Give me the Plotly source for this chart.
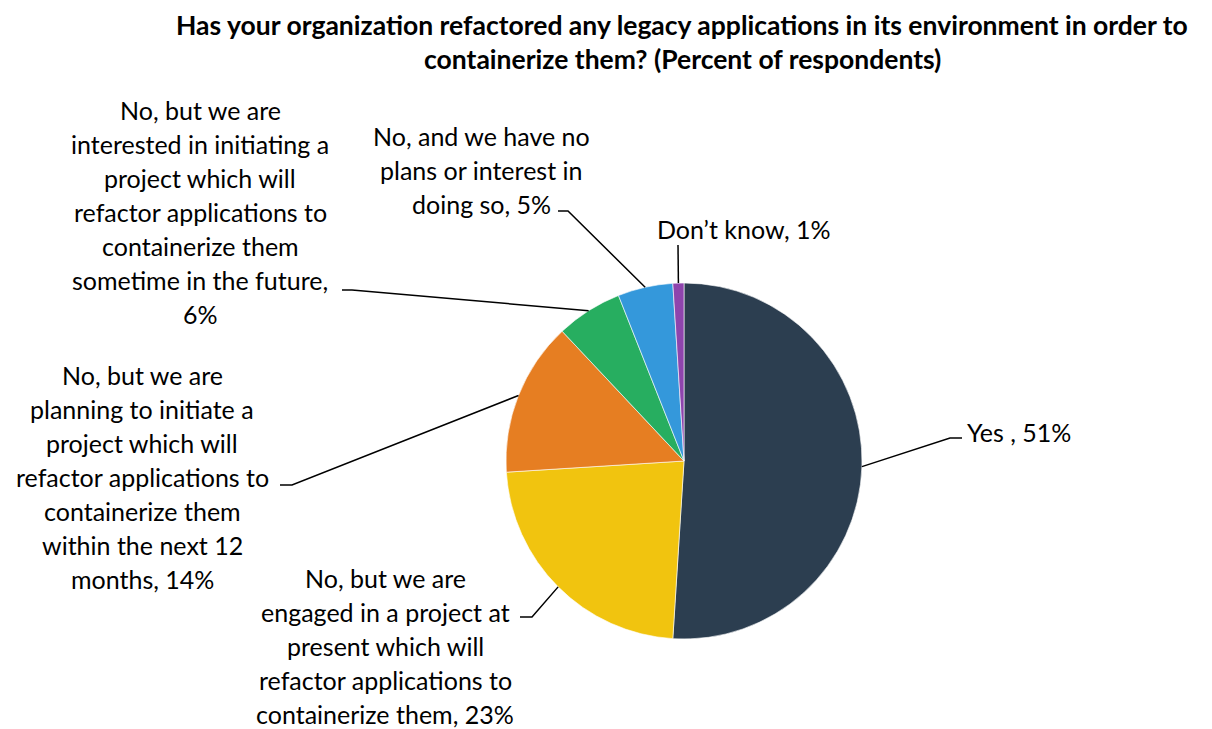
import numpy as np
import plotly.graph_objects as go

# ---- data -------------------------------------------------------------
title_lines = [
    "Has your organization refactored any legacy applications in its environment in order to",
    "containerize them? (Percent of respondents)",
]
categories = [
    "Yes",
    "No, but we are engaged in a project at present which will refactor applications to containerize them",
    "No, but we are planning to initiate a project which will refactor applications to containerize them within the next 12 months",
    "No, but we are interested in initiating a project which will refactor applications to containerize them sometime in the future",
    "No, and we have no plans or interest in doing so",
    "Don’t know",
]
values = [51, 23, 14, 6, 5, 1]
# wrapped label text, value filled in from `values`
label_templates = [
    "Yes , {v}%",
    "No, but we are\nengaged in a project at\npresent which will\nrefactor applications to\ncontainerize them, {v}%",
    "No, but we are\nplanning to initiate a\nproject which will\nrefactor applications to\ncontainerize them\nwithin the next 12\nmonths, {v}%",
    "No, but we are\ninterested in initiating a\nproject which will\nrefactor applications to\ncontainerize them\nsometime in the future,\n{v}%",
    "No, and we have no\nplans or interest in\ndoing so, {v}%",
    "Don’t know, {v}%",
]
colors = ["#2C3E50", "#F1C40F", "#E67E22", "#27AE60", "#3498DB", "#8E44AD"]

# ---- layout (pixels) --------------------------------------------------
W, H = 1212, 729
CX, CY, R = 684, 461, 178
LINE_H = 34
FONT = "Lato, 'Open Sans', sans-serif"
LABEL_SIZE = 25
TITLE_SIZE = 26.5

# label block: anchor x, first-line centre y, xanchor, leader bend points
label_pos = [
    (965, 432, "left",   [(950, 438), (962, 438)]),
    (385, 578, "center", [(532, 617), (520, 617)]),
    (142, 375, "center", [(292, 485), (280, 485)]),
    (200, 110, "center", [(352, 290), (342, 290)]),
    (481, 136, "center", [(568, 211), (558, 211)]),
    (744, 229, "center", [(678, 245)]),
]


def px(x):
    return x / W


def py(y):
    return 1 - y / H


fig = go.Figure(
    go.Pie(
        labels=categories,
        values=values,
        sort=False,
        direction="clockwise",
        rotation=0,
        marker=dict(colors=colors, line=dict(color="white", width=0.6)),
        textinfo="none",
        hoverinfo="label+percent",
        domain=dict(x=[px(CX - R), px(CX + R)], y=[py(CY + R), py(CY - R)]),
    )
)

annotations = []
shapes = []

# title
for i, line in enumerate(title_lines):
    annotations.append(dict(
        x=px(682), y=py(25 + i * LINE_H), xref="paper", yref="paper",
        text=f"<b>{line}</b>", showarrow=False, xanchor="center", yanchor="middle",
        font=dict(family=FONT, size=TITLE_SIZE, color="#000000"),
    ))

# slice labels with leader lines
vals = np.array(values, dtype=float)
mid_frac = (np.cumsum(vals) - vals / 2) / vals.sum()
for v, tmpl, theta, (lx, ly, xa, bends) in zip(values, label_templates, mid_frac * 2 * np.pi, label_pos):
    ex = CX + R * np.sin(theta)
    ey = CY - R * np.cos(theta)
    pts = [(ex, ey)] + bends
    path = "M " + " L ".join(f"{px(x):.5f},{py(y):.5f}" for x, y in pts)
    shapes.append(dict(type="path", path=path, xref="paper", yref="paper",
                       line=dict(color="#000000", width=1.5)))
    for j, line in enumerate(tmpl.format(v=v).split("\n")):
        annotations.append(dict(
            x=px(lx), y=py(ly + j * LINE_H), xref="paper", yref="paper",
            text=line, showarrow=False, xanchor=xa, yanchor="middle",
            font=dict(family=FONT, size=LABEL_SIZE, color="#000000"),
        ))

fig.update_layout(
    width=W, height=H,
    margin=dict(l=0, r=0, t=0, b=0),
    paper_bgcolor="white", plot_bgcolor="white",
    showlegend=False,
    annotations=annotations,
    shapes=shapes,
)

fig.write_html("out.html")
